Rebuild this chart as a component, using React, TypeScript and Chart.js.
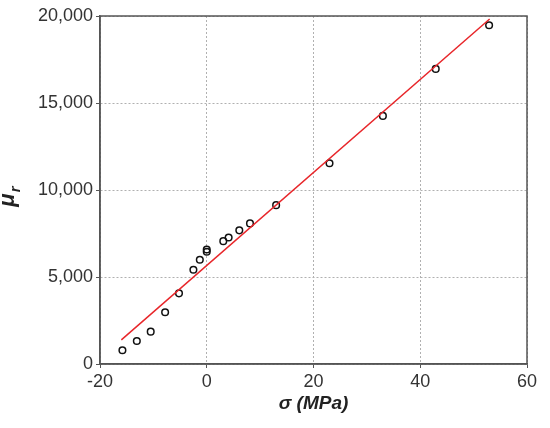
import React, { useEffect, useRef } from "react";
import { Chart, registerables } from "chart.js";

Chart.register(...registerables);

const sigma = [-15.8, -13.1, -10.5, -7.8, -5.2, -2.5, -1.3, 0, 0, 3.1, 4.1, 6.1, 8.1, 13.0, 23.0, 33.0, 42.9, 52.9];
const mu = [790, 1320, 1860, 2970, 4060, 5420, 5990, 6450, 6580, 7060, 7270, 7680, 8080, 9130, 11540, 14260, 16960, 19470];
const fitX = [-16, 53];
const fitY = [1390, 19830];
const xTicks = [-20, 0, 20, 40, 60];
const yTicks = [0, 5000, 10000, 15000, 20000];

const FONT = "'Liberation Sans', Arial, Helvetica, sans-serif";

export default function App() {
  const ref = useRef<HTMLCanvasElement | null>(null);

  useEffect(() => {
    if (!ref.current) return;
    const framePlugin = {
      id: "frame",
      afterDraw(chart: any) {
        const { ctx, chartArea } = chart;
        ctx.save();
        ctx.strokeStyle = "#555";
        ctx.lineWidth = 1.5;
        ctx.strokeRect(chartArea.left, chartArea.top, chartArea.right - chartArea.left, chartArea.bottom - chartArea.top);
        // y title: mu with subscript r
        ctx.translate(22, 196);
        ctx.rotate(-Math.PI / 2);
        ctx.fillStyle = "#222";
        ctx.textBaseline = "alphabetic";
        ctx.textAlign = "left";
        ctx.font = `italic bold 22px ${FONT}`;
        const w = ctx.measureText("μ").width;
        ctx.fillText("μ", -w / 2 - 4, -8);
        ctx.font = `italic bold 15px ${FONT}`;
        ctx.fillText("r", w / 2 - 3, -2);
        ctx.restore();
      },
    };

    const chart = new Chart(ref.current, {
      type: "scatter",
      data: {
        datasets: [
          {
            type: "line",
            data: fitX.map((x, i) => ({ x, y: fitY[i] })),
            borderColor: "#e8262a",
            borderWidth: 1.5,
            pointRadius: 0,
            showLine: true,
            fill: false,
          } as any,
          {
            data: sigma.map((x, i) => ({ x, y: mu[i] })),
            pointRadius: 3.3,
            pointBorderWidth: 1.5,
            pointBorderColor: "#111",
            pointBackgroundColor: "rgba(0,0,0,0)",
          },
        ],
      },
      options: {
        animation: false,
        responsive: true,
        maintainAspectRatio: false,
        layout: { padding: { top: 16, right: 23, left: 0, bottom: 0 } },
        plugins: { legend: { display: false }, tooltip: { enabled: false } },
        scales: {
          x: {
            type: "linear",
            min: -20,
            max: 60,
            afterBuildTicks: (s: any) => {
              s.ticks = xTicks.map((v) => ({ value: v }));
            },
            afterFit: (s: any) => {
              s.height = 64;
            },
            ticks: {
              color: "#333",
              font: { family: FONT, size: 18 },
              padding: 3,
              maxRotation: 0,
            },
            grid: { color: "#b0b0b0", lineWidth: 1, tickLength: 4, tickColor: "#555" },
            border: { color: "#555", width: 1.5, dash: [2, 2] },
            title: {
              display: true,
              text: "σ (MPa)",
              color: "#222",
              font: { family: FONT, size: 19, weight: "bold", style: "italic" },
              padding: { top: 0, bottom: 13 },
            },
          },
          y: {
            type: "linear",
            min: 0,
            max: 20000,
            afterBuildTicks: (s: any) => {
              s.ticks = yTicks.map((v) => ({ value: v }));
            },
            afterFit: (s: any) => {
              s.width = 100;
            },
            ticks: {
              color: "#333",
              font: { family: FONT, size: 18 },
              padding: 3,
              callback: (v: any) => Number(v).toLocaleString("en-US"),
            },
            grid: { color: "#b0b0b0", lineWidth: 1, tickLength: 4, tickColor: "#555" },
            border: { color: "#555", width: 1.5, dash: [2, 2] },
          },
        },
      },
      plugins: [framePlugin],
    });
    return () => chart.destroy();
  }, []);

  return (
    <div style={{ position: "fixed", left: 0, top: 0, width: 550, height: 428, background: "#fff" }}>
      <canvas ref={ref} />
    </div>
  );
}
